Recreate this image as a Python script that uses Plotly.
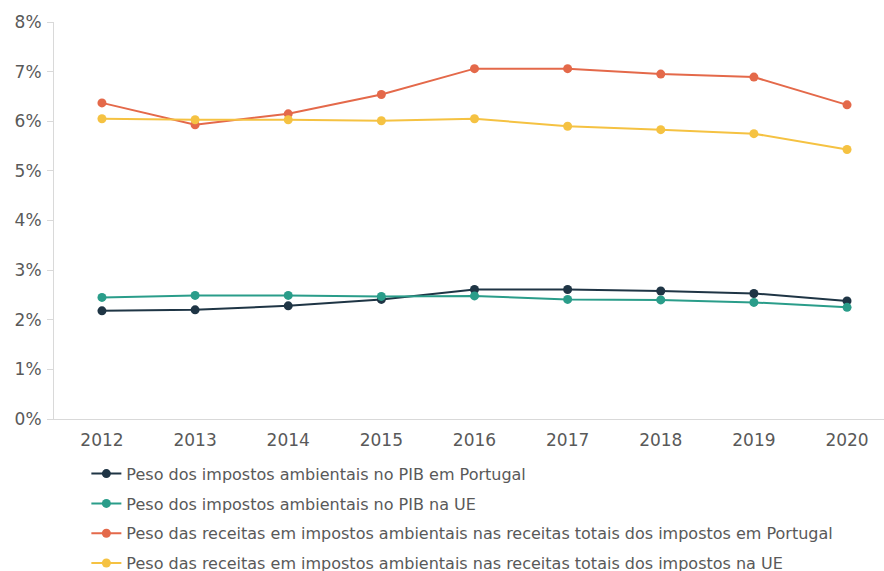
import plotly.graph_objects as go

years = [2012, 2013, 2014, 2015, 2016, 2017, 2018, 2019, 2020]

pib_portugal = [2.18, 2.20, 2.28, 2.41, 2.61, 2.61, 2.58, 2.53, 2.38]
pib_ue = [2.45, 2.49, 2.49, 2.47, 2.48, 2.41, 2.40, 2.35, 2.25]
receitas_portugal = [6.37, 5.93, 6.15, 6.54, 7.06, 7.06, 6.95, 6.89, 6.33]
receitas_ue = [6.05, 6.03, 6.03, 6.01, 6.05, 5.90, 5.83, 5.75, 5.43]

series_names = [
    "Peso dos impostos ambientais no PIB em Portugal",
    "Peso dos impostos ambientais no PIB na UE",
    "Peso das receitas em impostos ambientais nas receitas totais dos impostos em Portugal",
    "Peso das receitas em impostos ambientais nas receitas totais dos impostos na UE",
]
series_values = [pib_portugal, pib_ue, receitas_portugal, receitas_ue]
series_colors = ["#1f3545", "#2a9d8a", "#e4694a", "#f5c242"]

y_ticks = [0, 1, 2, 3, 4, 5, 6, 7, 8]
y_tick_labels = [f"{v}%" for v in y_ticks]

FONT = "DejaVu Sans, Verdana, sans-serif"

fig = go.Figure()
for i, (name, vals, col) in enumerate(zip(series_names, series_values, series_colors)):
    fig.add_trace(go.Scatter(
        x=years, y=vals, name=name, mode="lines+markers",
        line=dict(color=col, width=2),
        marker=dict(color=col, size=9),
        legendgroup=f"g{i}",
    ))

fig.update_layout(
    width=884, height=571,
    margin=dict(l=54, r=0, t=22, b=152, autoexpand=False),
    paper_bgcolor="white", plot_bgcolor="white",
    font=dict(family=FONT, color="#595959", size=17),
    showlegend=True,
    legend=dict(
        orientation="v", x=0.039, xanchor="left", y=-0.095, yanchor="top",
        font=dict(family=FONT, size=16, color="#595959"),
        tracegroupgap=6, itemwidth=30,
        bgcolor="rgba(0,0,0,0)",
    ),
    xaxis=dict(
        range=[2012 - 0.515, 2020 + 0.397],
        tickmode="array", tickvals=years, ticktext=[str(y) for y in years],
        showgrid=False, zeroline=False,
        showline=True, linecolor="#d9d9d9", linewidth=1,
        ticks="", ticklabelstandoff=6,
        tickfont=dict(size=17, color="#595959"),
    ),
    yaxis=dict(
        range=[0, 8],
        tickmode="array", tickvals=y_ticks, ticktext=y_tick_labels,
        showgrid=False, zeroline=False,
        showline=True, linecolor="#d9d9d9", linewidth=1,
        ticks="outside", ticklen=6, tickcolor="#d9d9d9",
        ticklabelstandoff=2,
        tickfont=dict(size=17, color="#595959"),
    ),
)

fig.write_html("out.html")
